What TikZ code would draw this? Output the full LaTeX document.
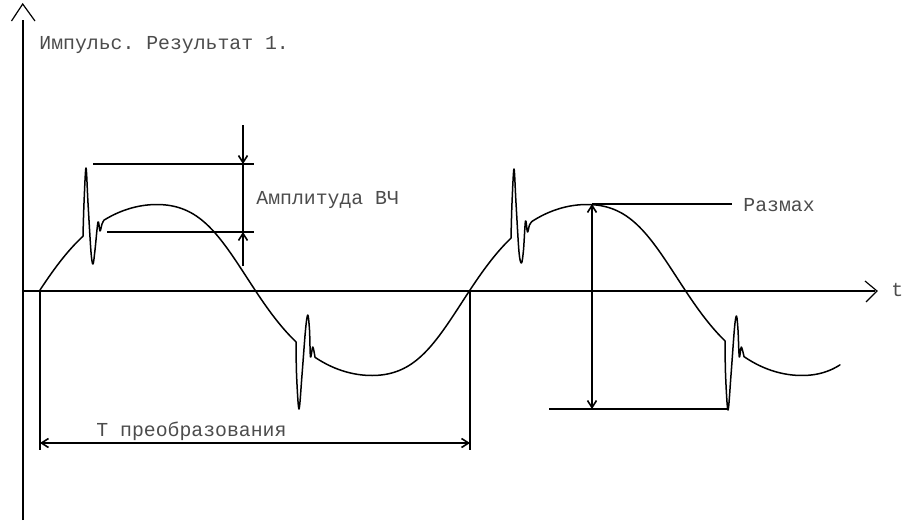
\documentclass[tikz,border=0pt]{standalone}
\usepackage{fontspec}
\setmonofont{Liberation Mono}
\usetikzlibrary{arrows.meta}

\begin{document}
\begin{tikzpicture}[
  x=0.5pt,y=-0.5pt,
  declare function={phs(\t)=(\t-40)/430*360;
    skw(\t)=phs(\t)-8*sin(phs(\t))*sin(phs(\t));
    wave(\t)=290-90*(sin(skw(\t))+0.05*sin(3*skw(\t)));},
  axis/.style={line width=1pt},
  curve/.style={line width=0.75pt,line join=round,line cap=round},
  dimline/.style={line width=0.8pt},
  dimarrow/.style={dimline,-{Straight Barb[length=3.5pt,width=4.5pt]}},
  dimboth/.style={dimline,{Straight Barb[length=3.5pt,width=4.5pt]}-{Straight Barb[length=3.5pt,width=4.5pt]}},
  txt/.style={font=\ttfamily\fontsize{9.9}{12}\selectfont,text=black!70,inner sep=0pt,anchor=base west}
]
\useasboundingbox (0,0) rectangle (911,520);

% Axes
\coordinate (ybot) at (23,520);
\coordinate (ytop) at (23,20);
\coordinate (xleft) at (23,291);
\coordinate (xright) at (875,291);
\draw[axis] (ybot) -- (ytop);
\draw[line width=0.6pt] (11.5,21) -- (22.7,4) -- (35,21);
\draw[axis] (xleft) -- (xright);
\draw[line width=0.6pt] (865,281) -- (877,291) -- (866,302);
\node[txt] (tlabel) at (891,296) {t};
\node[txt] (title) at (39,49) {Импульс. Результат 1.};

% Wave with pulses
\draw[curve] plot[domain=40:83,samples=30] (\x,{wave(\x)})
  -- plot[smooth,tension=0.55] coordinates {(83,236.2) (84,203) (86,168) (88,203) (91,252) (93,264) (95,250) (98,222) (100,231) (102,224) (104,220.1)}
  -- plot[domain=104:296,samples=80] (\x,{wave(\x)})
  -- plot[smooth,tension=0.55] coordinates {(296,341.9) (296.6,376) (299,409) (302,375) (305.5,330) (307.8,315) (309.5,330) (310.5,357) (312.8,347) (315,357.3)}
  -- plot[domain=315:511,samples=80] (\x,{wave(\x)})
  -- plot[smooth,tension=0.55] coordinates {(511,238.1) (512,203) (514,169) (516,203) (519,252) (521.5,263) (523.5,250) (525.5,221) (527.5,232) (529.5,225) (532,221.4)}
  -- plot[domain=532:725,samples=80] (\x,{wave(\x)})
  -- plot[smooth,tension=0.55] coordinates {(725,340.9) (725.6,376) (728,410) (731,375) (734.5,328) (736.5,316) (738,330) (739.3,357) (741.3,347) (744,356.6)}
  -- plot[domain=744:840,samples=40] (\x,{wave(\x)});

% Amplitude HF
\coordinate (amptop) at (243,125);
\coordinate (amphi) at (243,164);
\coordinate (amplo) at (243,232);
\coordinate (ampbot) at (243,266);
\draw[dimline] (93,164) -- (254,164);
\draw[dimline] (107,232) -- (254,232);
\draw[dimarrow] (amptop) -- (amphi);
\draw[dimline] (amphi) -- (amplo);
\draw[dimarrow] (ampbot) -- (amplo);
\node[txt] (amp) at (256,204) {Амплитуда ВЧ};

% Peak to peak
\coordinate (pkhi) at (592,204);
\coordinate (pklo) at (592,409);
\draw[dimline] (pkhi) -- (732,204);
\draw[dimline] (549,409) -- (728,409);
\draw[dimboth] (pklo) -- (pkhi);
\node[txt] (razmah) at (743,211) {Размах};

% Conversion period
\coordinate (pa) at (40,443);
\coordinate (pb) at (470,443);
\draw[dimline] (40,291) -- (40,450);
\draw[dimline] (470,291) -- (470,450);
\draw[dimboth] (pa) -- (pb);
\node[txt] (period) at (96,436) {Т преобразования};

\end{tikzpicture}
\end{document}
